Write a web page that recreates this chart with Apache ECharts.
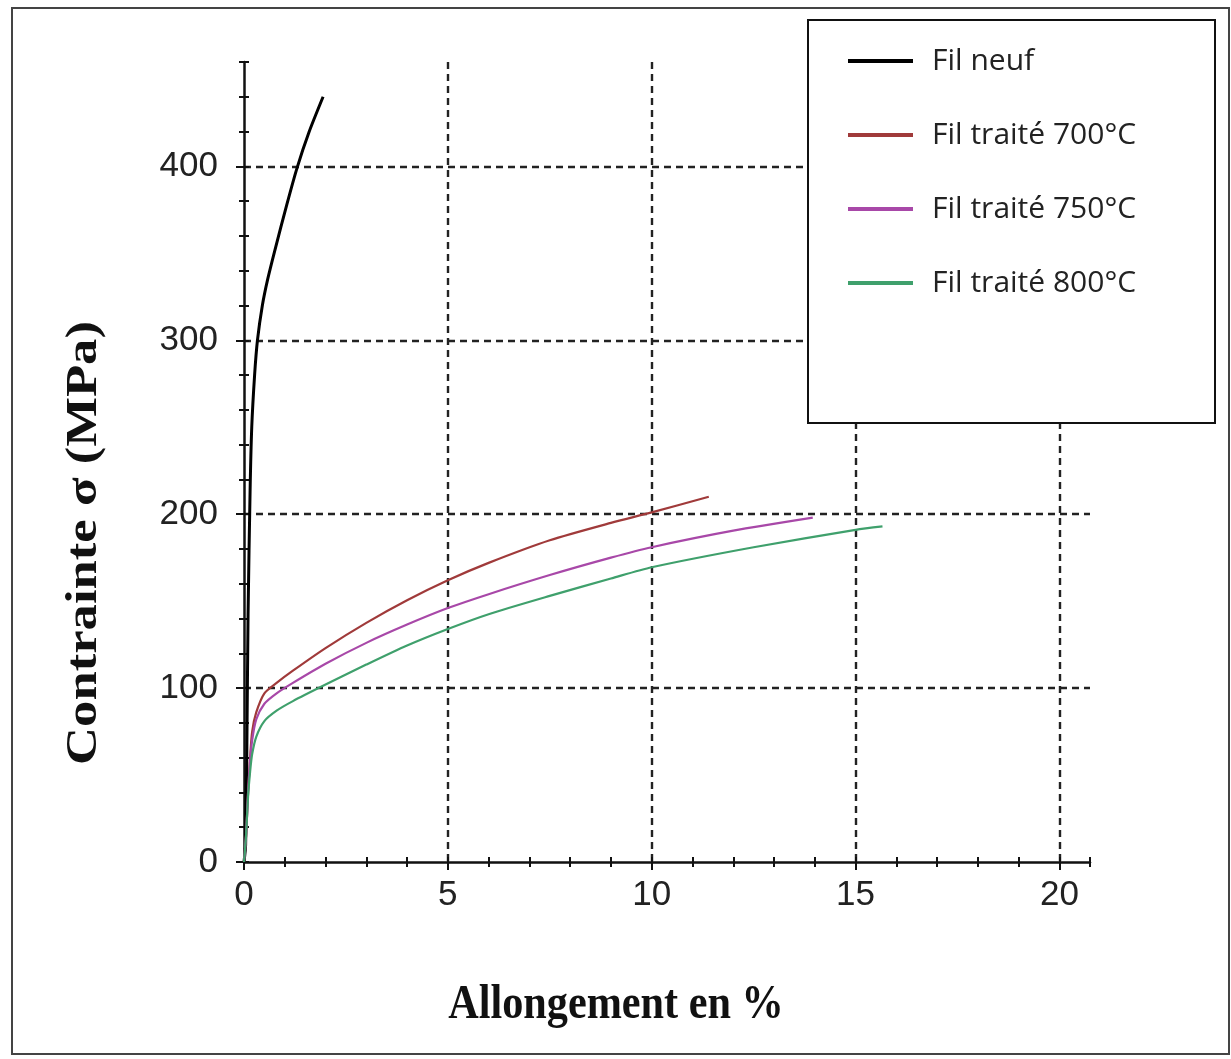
<!DOCTYPE html>
<html>
<head>
<meta charset="utf-8">
<script src="https://cdn.jsdelivr.net/npm/echarts@6/dist/echarts.min.js"></script>
<style>
html,body{margin:0;padding:0;background:#fff;}
#chart{width:1231px;height:1059px;}
</style>
</head>
<body>
<div id="chart"></div>
<script>
// ---- data ----
const seriesNames = ['Fil neuf', 'Fil traité 700°C', 'Fil traité 750°C', 'Fil traité 800°C'];

const neufX = [0, 0.04, 0.07, 0.1, 0.15, 0.19, 0.26, 0.33, 0.45, 0.58, 0.76, 1.05, 1.3, 1.6, 1.94];
const neufY = [0, 10, 66, 143, 214, 250, 280, 300, 320, 335, 352, 378, 399, 420, 440];

const t700X = [0, 0.05, 0.1, 0.15, 0.2, 0.3, 0.5, 0.8, 1.2, 2, 3, 4, 5, 6, 7.5, 9, 10, 11.4];
const t700Y = [0, 15, 40, 60, 75, 86, 97, 103, 110, 123, 137.5, 150.5, 162, 172, 185, 195, 201, 210];

const t750X = [0, 0.05, 0.1, 0.15, 0.2, 0.3, 0.5, 0.8, 1.2, 2, 3, 4, 5, 6, 7.5, 9, 10, 12, 13.95];
const t750Y = [0, 15, 40, 58, 70, 82, 91, 97, 103, 114, 126, 136.5, 146, 154, 165, 175, 181, 190.5, 198];

const t800X = [0, 0.05, 0.1, 0.15, 0.2, 0.3, 0.5, 0.8, 1.2, 2, 3, 4, 5, 6, 7.5, 9, 10, 12.5, 15, 15.66];
const t800Y = [0, 15, 38, 52, 62, 72, 81, 87, 92.5, 102, 113.5, 124.5, 134, 142.5, 153, 163, 169.5, 181, 191, 193];

const xTicks = [0, 5, 10, 15, 20];
const yTicks = [0, 100, 200, 300, 400];

const xTitle = 'Allongement en %';
const yTitle = 'Contrainte σ (MPa)';

// ---- build ----
function zip(xs, ys) { return xs.map((x, i) => [x, ys[i]]); }

const X_MAX = 20.75, Y_MAX = 460;
const colors = ['#000000', '#a03a3a', '#a848a8', '#3fa06c'];
const widths = [3, 2.2, 2.2, 2.2];
const datasets = [zip(neufX, neufY), zip(t700X, t700Y), zip(t750X, t750Y), zip(t800X, t800Y)];

const axisLineStyle = { color: '#111', width: 2.5 };
const labelStyle = { fontSize: 35, color: '#222', fontFamily: 'Liberation Sans, Arial, sans-serif' };
const gridLine = { type: [7, 5], color: '#222', width: 2.4 };

function xAxisMain() {
  return {
    type: 'value', gridIndex: 0, min: 0, max: X_MAX, interval: xTicks[1] - xTicks[0],
    axisLine: { show: true, lineStyle: axisLineStyle },
    axisTick: { show: true, length: 8, inside: false, lineStyle: { color: '#111', width: 2 } },
    axisLabel: Object.assign({ margin: 16, showMaxLabel: false,
      formatter: v => (xTicks.indexOf(v) >= 0 ? String(v) : '') }, labelStyle),
    splitLine: { show: true, showMaxLine: false, showMinLine: false, lineStyle: gridLine },
    minorTick: { show: false }
  };
}
function xAxisMinor(inside) {
  return {
    type: 'value', gridIndex: 0, position: 'bottom', min: 0, max: X_MAX, interval: 1,
    axisLine: { show: false },
    axisTick: { show: true, length: 5, inside: inside, lineStyle: { color: '#111', width: 2 } },
    axisLabel: { show: false }, splitLine: { show: false }
  };
}
function yAxisMain() {
  return {
    type: 'value', gridIndex: 0, min: 0, max: Y_MAX, interval: yTicks[1] - yTicks[0],
    axisLine: { show: true, lineStyle: axisLineStyle },
    axisTick: { show: true, length: 8, inside: false, lineStyle: { color: '#111', width: 2 } },
    axisLabel: Object.assign({ margin: 26, showMaxLabel: false,
      formatter: v => (yTicks.indexOf(v) >= 0 ? String(v) : '') }, labelStyle),
    splitLine: { show: true, showMaxLine: false, showMinLine: false, lineStyle: gridLine },
    minorTick: { show: false }
  };
}
function yAxisMinor(inside) {
  return {
    type: 'value', gridIndex: 0, position: 'left', min: 0, max: Y_MAX, interval: 20,
    axisLine: { show: false },
    axisTick: { show: true, length: 5, inside: inside, lineStyle: { color: '#111', width: 2 } },
    axisLabel: { show: false }, splitLine: { show: false }
  };
}

const option = {
  animation: false,
  backgroundColor: '#ffffff',
  grid: { left: 244, top: 62, width: 846, height: 800, containLabel: false, outerBoundsMode: 'none' },
  xAxis: [xAxisMain(), xAxisMinor(true), xAxisMinor(false)],
  yAxis: [yAxisMain(), yAxisMinor(true), yAxisMinor(false)],
  legend: {
    orient: 'vertical', left: 843, top: 41, z: 10,
    icon: 'rect', itemWidth: 65, itemHeight: 4, itemGap: 44,
    textStyle: { fontSize: 30, color: '#222', fontFamily: 'Open Sans, Noto Sans, sans-serif',
      padding: [0, 0, 0, 14] },
    data: seriesNames
  },
  graphic: [
    { type: 'rect', z: 0, silent: true,
      shape: { x: 12, y: 8, width: 1217, height: 1046 },
      style: { fill: 'none', stroke: '#444', lineWidth: 2 } },
    { type: 'rect', z: 5, silent: true,
      shape: { x: 808, y: 20, width: 407, height: 403 },
      style: { fill: '#fff', stroke: '#111', lineWidth: 2 } },
    { type: 'text', z: 5, x: 84, y: 543, rotation: Math.PI / 2, scaleX: 1.17, scaleY: 1,
      style: { text: yTitle, fill: '#111', font: 'bold 45px "Liberation Serif", "Times New Roman", serif',
        textAlign: 'center', textVerticalAlign: 'middle' } },
    { type: 'text', z: 5, x: 616, y: 1006, scaleX: 0.88, scaleY: 1,
      style: { text: xTitle, fill: '#111', font: 'bold 48px "Liberation Serif", "Times New Roman", serif',
        textAlign: 'center', textVerticalAlign: 'middle' } }
  ],
  series: seriesNames.map((name, i) => ({
    name: name, type: 'line', xAxisIndex: 0, yAxisIndex: 0,
    data: datasets[i], showSymbol: false, symbol: 'none',
    smooth: 0.25,
    color: colors[i],
    lineStyle: { color: colors[i], width: widths[i] },
    itemStyle: { color: colors[i] }
  }))
};

const chart = echarts.init(document.getElementById('chart'), null, { renderer: 'canvas' });
chart.setOption(option);
</script>
</body>
</html>
